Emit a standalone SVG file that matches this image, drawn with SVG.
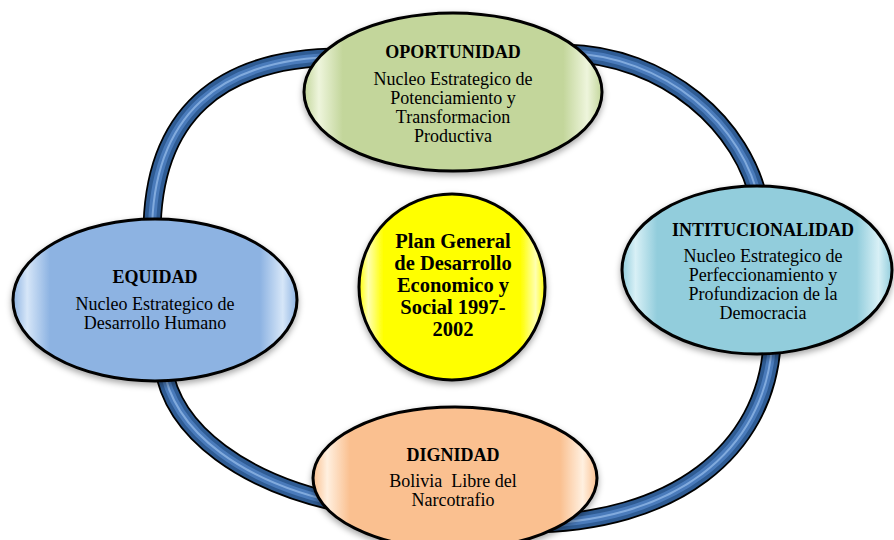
<svg xmlns="http://www.w3.org/2000/svg" width="894" height="540" viewBox="0 0 894 540">
<defs>
<style>
.h{font-family:"Liberation Serif","Times New Roman",serif;font-weight:bold;font-size:18px;text-anchor:middle;fill:#000}
.t{font-family:"Liberation Serif","Times New Roman",serif;font-size:18px;text-anchor:middle;fill:#000}
.c{font-family:"Liberation Serif","Times New Roman",serif;font-weight:bold;font-size:20.5px;text-anchor:middle;fill:#000}
.node{stroke:#000;stroke-width:3}
.t0{fill:none;stroke:#000;stroke-width:19;stroke-linecap:butt}
.t1{fill:none;stroke:#2f5c94;stroke-width:15.5}
.t2{fill:none;stroke:#4a7bbb;stroke-width:8}
.t3{fill:none;stroke:#8fb6e6;stroke-width:2;opacity:.8}
</style>
<filter id="sh" x="-10%" y="-10%" width="120%" height="130%">
<feDropShadow dx="0" dy="3" stdDeviation="3" flood-color="#000" flood-opacity="0.35"/>
</filter>
<linearGradient id="gG" x1="0" y1="0" x2="1" y2="0">
<stop offset="0" stop-color="#c3d69b"/><stop offset="0.05" stop-color="#eef5dc"/><stop offset="0.13" stop-color="#c3d69b"/>
<stop offset="0.87" stop-color="#c3d69b"/><stop offset="0.95" stop-color="#eef5dc"/><stop offset="1" stop-color="#c3d69b"/>
</linearGradient>
<linearGradient id="gR" x1="0" y1="0" x2="1" y2="0">
<stop offset="0" stop-color="#92cddc"/><stop offset="0.05" stop-color="#d8f0f6"/><stop offset="0.13" stop-color="#92cddc"/>
<stop offset="0.87" stop-color="#92cddc"/><stop offset="0.95" stop-color="#d8f0f6"/><stop offset="1" stop-color="#92cddc"/>
</linearGradient>
<linearGradient id="gL" x1="0" y1="0" x2="1" y2="0">
<stop offset="0" stop-color="#8db3e2"/><stop offset="0.05" stop-color="#d6e6f8"/><stop offset="0.13" stop-color="#8db3e2"/>
<stop offset="0.87" stop-color="#8db3e2"/><stop offset="0.95" stop-color="#d6e6f8"/><stop offset="1" stop-color="#8db3e2"/>
</linearGradient>
<linearGradient id="gB" x1="0" y1="0" x2="1" y2="0">
<stop offset="0" stop-color="#fac090"/><stop offset="0.05" stop-color="#fff0e0"/><stop offset="0.13" stop-color="#fac090"/>
<stop offset="0.87" stop-color="#fac090"/><stop offset="0.95" stop-color="#fff0e0"/><stop offset="1" stop-color="#fac090"/>
</linearGradient>
<linearGradient id="gY" x1="0" y1="0" x2="1" y2="0">
<stop offset="0" stop-color="#ffff00"/><stop offset="0.05" stop-color="#ffffb0"/><stop offset="0.13" stop-color="#ffff00"/>
<stop offset="0.87" stop-color="#ffff00"/><stop offset="0.95" stop-color="#ffffb0"/><stop offset="1" stop-color="#ffff00"/>
</linearGradient>
</defs>
<rect width="894" height="540" fill="#fff"/>
<g id="connectors">
<g id="arc-top-left">
<path class="t0" d="M345,57 C220,56 150,115 152,240"/>
<path class="t1" d="M345,57 C220,56 150,115 152,240"/>
<path class="t2" d="M345,57 C220,56 150,115 152,240"/>
<path class="t3" d="M345,57 C220,56 150,115 152,240"/>
</g>
<g id="arc-top-right">
<path class="t0" d="M565,53 C665,55 745,125 760,205"/>
<path class="t1" d="M565,53 C665,55 745,125 760,205"/>
<path class="t2" d="M565,53 C665,55 745,125 760,205"/>
<path class="t3" d="M565,53 C665,55 745,125 760,205"/>
</g>
<g id="arc-bottom-left">
<path class="t0" d="M163,365 C172,432 245,485 350,505"/>
<path class="t1" d="M163,365 C172,432 245,485 350,505"/>
<path class="t2" d="M163,365 C172,432 245,485 350,505"/>
<path class="t3" d="M163,365 C172,432 245,485 350,505"/>
</g>
<g id="arc-bottom-right">
<path class="t0" d="M525,524 C675,524 765,450 772,345"/>
<path class="t1" d="M525,524 C675,524 765,450 772,345"/>
<path class="t2" d="M525,524 C675,524 765,450 772,345"/>
<path class="t3" d="M525,524 C675,524 765,450 772,345"/>
</g>
</g>
<g id="node-oportunidad">
<ellipse class="node" cx="453" cy="92" rx="149" ry="79" fill="url(#gG)" filter="url(#sh)"/>
<text class="h" x="453" y="58">OPORTUNIDAD</text>
<text class="t" x="453" y="85">Nucleo Estrategico de</text>
<text class="t" x="453" y="104">Potenciamiento y</text>
<text class="t" x="453" y="123">Transformacion</text>
<text class="t" x="453" y="142">Productiva</text>
</g>
<g id="node-intitucionalidad">
<ellipse class="node" cx="757" cy="270" rx="135" ry="84" fill="url(#gR)" filter="url(#sh)"/>
<text class="h" x="763" y="236">INTITUCIONALIDAD</text>
<text class="t" x="763" y="262">Nucleo Estrategico de</text>
<text class="t" x="763" y="281">Perfeccionamiento y</text>
<text class="t" x="763" y="300">Profundizacion de la</text>
<text class="t" x="763" y="319">Democracia</text>
</g>
<g id="node-equidad">
<ellipse class="node" cx="155" cy="300" rx="142" ry="81" fill="url(#gL)" filter="url(#sh)"/>
<text class="h" x="155" y="283">EQUIDAD</text>
<text class="t" x="155" y="310">Nucleo Estrategico de</text>
<text class="t" x="155" y="329">Desarrollo Humano</text>
</g>
<g id="node-dignidad">
<ellipse class="node" cx="455" cy="478" rx="142" ry="71" fill="url(#gB)" filter="url(#sh)"/>
<text class="h" x="453" y="461">DIGNIDAD</text>
<text class="t" x="453" y="487" xml:space="preserve">Bolivia  Libre del</text>
<text class="t" x="453" y="506">Narcotrafio</text>
</g>
<g id="node-plan">
<circle class="node" cx="452" cy="287" r="93" fill="url(#gY)" filter="url(#sh)"/>
<text class="c" x="453" y="248">Plan General</text>
<text class="c" x="453" y="270">de Desarrollo</text>
<text class="c" x="453" y="292">Economico y</text>
<text class="c" x="453" y="314">Social 1997-</text>
<text class="c" x="453" y="336">2002</text>
</g>
</svg>
